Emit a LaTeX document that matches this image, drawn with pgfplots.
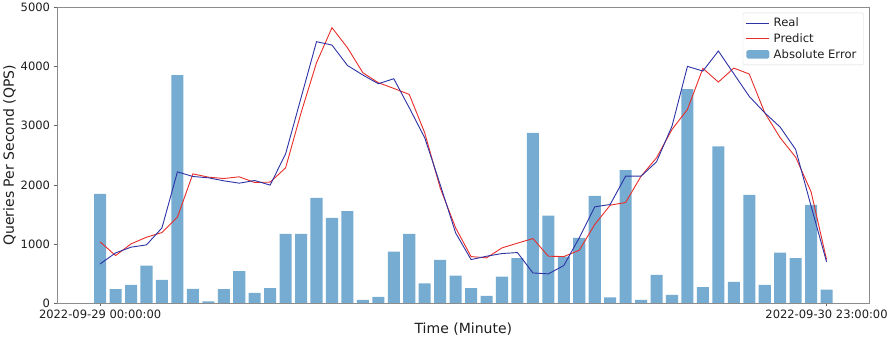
\documentclass[border=0pt]{standalone}
\usepackage{pgfplots}
\pgfplotsset{compat=1.18}
\usepackage{fontspec}
\setmainfont{DejaVu Sans}
\definecolor{barblue}{RGB}{118,172,210}
\definecolor{realblue}{RGB}{45,50,165}
\definecolor{predred}{RGB}{232,45,40}
\definecolor{txt}{RGB}{30,30,30}
\pgfplotsset{
  lineleg/.style={legend image code/.code={\draw[##1] (0cm,0cm) -- (0.8cm,0cm);}},
  barleg/.style={legend image code/.code={\fill[##1] (0cm,-0.14cm) rectangle (0.8cm,0.16cm);}},
}
\begin{document}
\begin{tikzpicture}
\begin{axis}[
  scale only axis,
  width=812pt, height=295pt,
  xmin=-2.79, xmax=49.79,
  ymin=0, ymax=5000,
  axis on top,
  xtick={0,47},
  xticklabels={2022-09-29 00:00:00, 2022-09-30 23:00:00},
  ytick={0,1000,2000,3000,4000,5000},
  xtick pos=bottom, ytick pos=left,
  tick align=outside,
  major tick length=3.5pt,
  tick style={black!60, line width=0.6pt},
  axis line style={black!45, line width=0.6pt},
  /pgf/number format/assume math mode=true,
  /pgf/number format/1000 sep={},
  ticklabel style={font=\fontsize{11.5}{13}\selectfont, text=txt},
  xlabel={Time (Minute)},
  ylabel={Queries Per Second (QPS)},
  label style={font=\fontsize{14}{16}\selectfont, text=txt},
  xlabel style={yshift=3pt},
  ylabel style={yshift=-2pt},
  legend style={at={(0.9926,0.983)}, anchor=north east, font=\fontsize{11.6}{13}\selectfont, draw=black!15, rounded corners=1.5pt, row sep=1.5pt, inner xsep=3pt, inner ysep=3pt, text=txt, nodes={inner xsep=4pt}},
  legend cell align=left,
]
\addlegendimage{realblue, line width=0.9pt, lineleg}
\addlegendentry{Real}
\addlegendimage{predred, line width=0.9pt, lineleg}
\addlegendentry{Predict}
\addlegendimage{fill=barblue, draw=none, barleg}
\addlegendentry{Absolute Error}

\addplot[ybar, bar width=0.78, fill=barblue, draw=none, forget plot] coordinates {
(0,1847) (1,232) (2,305) (3,633) (4,390) (5,3859) (6,237) (7,28) (8,232) (9,537)
(10,170) (11,249) (12,1169) (13,1169) (14,1780) (15,1441) (16,1554) (17,51) (18,102) (19,870)
(20,1169) (21,333) (22,729) (23,463) (24,249) (25,119) (26,446) (27,757) (28,2881) (29,1480)
(30,785) (31,1102) (32,1814) (33,96) (34,2249) (35,51) (36,475) (37,136) (38,3621) (39,266)
(40,2650) (41,356) (42,1831) (43,305) (44,853) (45,757) (46,1661) (47,226)
};
\addplot[predred, line width=0.9pt, forget plot] coordinates {
(0,1034) (1,802) (2,1000) (3,1113) (4,1192) (5,1452) (6,2186) (7,2130) (8,2107) (9,2136)
(10,2040) (11,2045) (12,2288) (13,3220) (14,4068) (15,4661) (16,4322) (17,3898) (18,3729) (19,3633)
(20,3531) (21,2881) (22,1949) (23,1271) (24,785) (25,763) (26,932) (27,1012) (28,1090) (29,791)
(30,785) (31,893) (32,1328) (33,1655) (34,1701) (35,2147) (36,2458) (37,2938) (38,3277) (39,3972)
(40,3740) (41,3977) (42,3876) (43,3220) (44,2797) (45,2469) (46,1881) (47,734)
};
\addplot[realblue, line width=0.9pt, forget plot] coordinates {
(0,661) (1,847) (2,944) (3,983) (4,1271) (5,2220) (6,2141) (7,2119) (8,2068) (9,2028)
(10,2073) (11,1995) (12,2525) (13,3475) (14,4424) (15,4367) (16,4022) (17,3859) (18,3712) (19,3797)
(20,3305) (21,2797) (22,2006) (23,1186) (24,734) (25,791) (26,836) (27,853) (28,508) (29,492)
(30,633) (31,1102) (32,1627) (33,1667) (34,2147) (35,2147) (36,2390) (37,2994) (38,4006) (39,3927)
(40,4266) (41,3881) (42,3497) (43,3220) (44,2977) (45,2599) (46,1639) (47,695)
};
\end{axis}
\end{tikzpicture}
\end{document}
